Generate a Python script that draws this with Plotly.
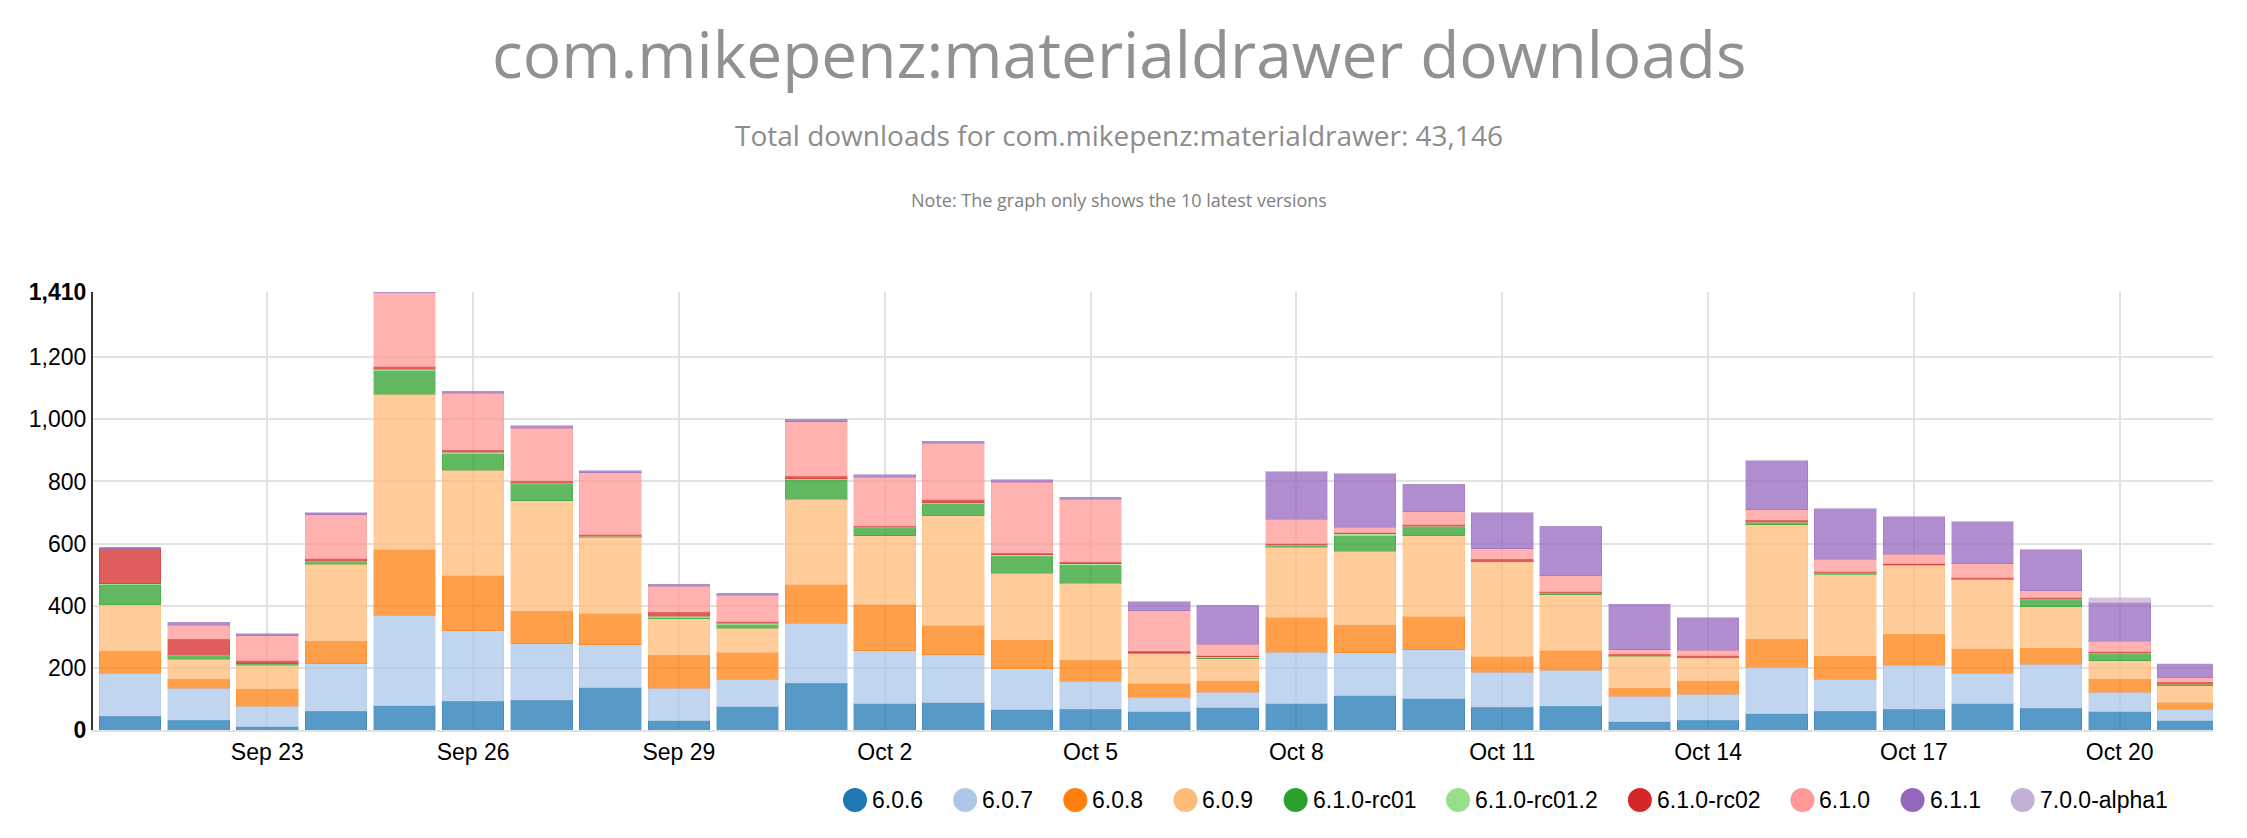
import pandas as pd
import plotly.graph_objects as go

# one bar per day, Sep 21 .. Oct 21
days = pd.date_range("2018-09-21", "2018-10-21", freq="D")

versions = ["6.0.6", "6.0.7", "6.0.8", "6.0.9", "6.1.0-rc01", "6.1.0-rc01.2",
            "6.1.0-rc02", "6.1.0", "6.1.1", "7.0.0-alpha1"]
colors = ["#1f77b4", "#aec7e8", "#ff7f0e", "#ffbb78", "#2ca02c", "#98df8a",
          "#d62728", "#ff9896", "#9467bd", "#c5b0d5"]

v606 = [45, 31, 10, 60, 78, 93, 95, 136, 30, 75, 151, 85, 87, 65, 67, 59, 71, 85, 111, 100, 74, 77, 26, 31, 52, 60, 67, 84, 70, 58, 29]
v607 = [137, 104, 67, 154, 291, 227, 182, 139, 104, 89, 193, 170, 155, 132, 90, 46, 51, 166, 138, 158, 112, 116, 83, 84, 150, 104, 141, 98, 142, 64, 38]
v608 = [72, 29, 55, 71, 212, 177, 105, 100, 107, 85, 123, 149, 94, 92, 68, 44, 35, 110, 88, 106, 50, 62, 26, 42, 90, 74, 100, 78, 51, 42, 21]
v609 = [150, 63, 76, 249, 500, 340, 356, 245, 117, 79, 276, 222, 354, 215, 248, 97, 72, 227, 238, 262, 305, 181, 103, 75, 369, 262, 222, 223, 133, 59, 55]
v610_rc01 = [64, 11, 3, 6, 75, 52, 53, 2, 4, 11, 62, 24, 38, 56, 58, 1, 3, 3, 51, 27, 2, 3, 2, 2, 4, 2, 1, 1, 22, 21, 3]
v610_rc012 = [3, 2, 3, 4, 6, 5, 4, 2, 4, 4, 4, 3, 4, 4, 4, 1, 4, 3, 5, 3, 1, 2, 1, 1, 4, 2, 1, 1, 3, 3, 1]
v610_rc02 = [112, 52, 9, 8, 7, 7, 6, 4, 13, 5, 8, 3, 9, 5, 5, 6, 3, 6, 4, 5, 6, 4, 3, 4, 6, 5, 4, 5, 4, 5, 6]
v610 = [0, 46, 80, 141, 238, 183, 171, 200, 84, 85, 176, 158, 182, 229, 203, 130, 37, 78, 17, 41, 33, 52, 15, 17, 34, 40, 29, 46, 24, 34, 16]
v611 = [6, 9, 7, 6, 3, 7, 7, 6, 6, 7, 7, 7, 7, 7, 6, 29, 125, 153, 173, 89, 117, 159, 146, 106, 157, 163, 122, 135, 131, 123, 43]
v700_alpha1 = [0, 0, 0, 0, 0, 0, 0, 0, 0, 0, 0, 0, 0, 0, 0, 0, 0, 0, 0, 0, 0, 0, 0, 0, 0, 0, 0, 0, 0, 17, 2]

series = [v606, v607, v608, v609, v610_rc01, v610_rc012, v610_rc02, v610, v611, v700_alpha1]

tick_labels = ["Sep 23", "Sep 26", "Sep 29", "Oct 2", "Oct 5", "Oct 8", "Oct 11", "Oct 14", "Oct 17", "Oct 20"]
tick_dates = ["2018-09-23", "2018-09-26", "2018-09-29", "2018-10-02", "2018-10-05",
              "2018-10-08", "2018-10-11", "2018-10-14", "2018-10-17", "2018-10-20"]
y_ticks = [0, 200, 400, 600, 800, 1000, 1200, 1410]
y_labels = ["<b>0</b>", "200", "400", "600", "800", "1,000", "1,200", "<b>1,410</b>"]


def rgba(hex_color, a):
    h = hex_color.lstrip("#")
    r, g, b = int(h[0:2], 16), int(h[2:4], 16), int(h[4:6], 16)
    return "rgba(%d,%d,%d,%s)" % (r, g, b, a)


# rough Arial widths (em) to lay out the circle legend like the original
CHAR_W = {".": 0.278, "-": 0.333, "r": 0.333, "c": 0.5, "l": 0.222,
          "a": 0.556, "p": 0.556, "h": 0.556}


def text_width(s, size):
    return sum(CHAR_W.get(ch, 0.556) for ch in s) * size


fig = go.Figure()
for name, vals, c in zip(versions, series, colors):
    fig.add_trace(go.Bar(
        x=days, y=vals, name=name, showlegend=False,
        marker=dict(color=rgba(c, 0.75), line=dict(color=rgba(c, 0.35), width=1)),
    ))

tick_font = dict(family="Liberation Sans, Arial, sans-serif", size=23, color="#000")

# page body has an 8px margin, so the figure is a bit smaller than the window
W, H = 2231, 822
ML, MR, MT, MB = 85, 26, 284, 100
plot_w = W - ML - MR
plot_h = H - MT - MB

# custom legend: circles + labels below the plot
legend_font = 23
dot = 24
shapes, annos = [], []
px = 835 - ML          # left edge of first circle, in plot pixels
py = (H - MB - 792) / plot_h   # legend centre in paper units
for name, c in zip(versions, colors):
    shapes.append(dict(type="circle", xref="paper", yref="paper",
                       xsizemode="pixel", ysizemode="pixel",
                       xanchor=px / plot_w, yanchor=py,
                       x0=0, x1=dot, y0=-dot / 2, y1=dot / 2,
                       fillcolor=c, line=dict(width=0)))
    annos.append(dict(text=name, xref="paper", yref="paper",
                      x=(px + dot + 3) / plot_w, y=py, xanchor="left", yanchor="middle",
                      showarrow=False, font=dict(family="Liberation Sans, Arial, sans-serif",
                                                 size=legend_font, color="#000")))
    px += dot + 5 + text_width(name, legend_font) + 30

annos += [
    dict(text="com.mikepenz:materialdrawer downloads", xref="paper", yref="paper",
         x=0.484, y=(H - MB) / plot_h, showarrow=False, yanchor="top",
         font=dict(family="Open Sans", size=64, color="#919191")),
    dict(text="Total downloads for com.mikepenz:materialdrawer: 43,146", xref="paper", yref="paper",
         x=0.484, y=1.358, showarrow=False, yanchor="middle",
         font=dict(family="Open Sans", size=28, color="#8c8c8c")),
    dict(text="Note: The graph only shows the 10 latest versions", xref="paper", yref="paper",
         x=0.484, y=1.21, showarrow=False, yanchor="middle",
         font=dict(family="Open Sans", size=18, color="#808080")),
]

fig.update_layout(
    width=W, height=H,
    barmode="stack", bargap=0.1,
    plot_bgcolor="white", paper_bgcolor="white",
    margin=dict(l=ML, r=MR, t=MT, b=MB),
    font=tick_font,
    showlegend=False,
    xaxis=dict(
        type="date",
        range=["2018-09-20 11:02", "2018-10-21 08:38"],
        tickvals=tick_dates, ticktext=tick_labels,
        showgrid=True, gridcolor="#e2e2e2", gridwidth=2,
        showline=True, linecolor="#e2e2e2", linewidth=2,
        ticks="", tickfont=tick_font, zeroline=False,
    ),
    yaxis=dict(
        range=[0, 1410],
        tickvals=y_ticks, ticktext=y_labels,
        showgrid=True, gridcolor="#e2e2e2", gridwidth=2,
        showline=True, linecolor="#333", linewidth=2,
        ticks="", tickfont=tick_font, zeroline=False,
    ),
    shapes=shapes,
    annotations=annos,
)

fig.write_html("out.html")
